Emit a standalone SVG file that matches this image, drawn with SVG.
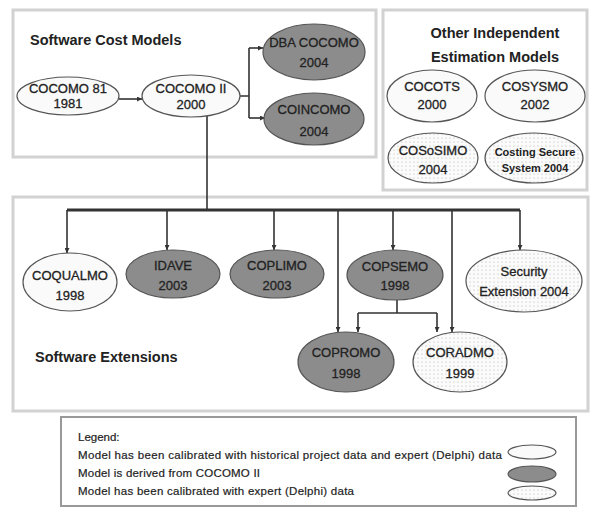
<svg xmlns="http://www.w3.org/2000/svg" width="592" height="508" viewBox="0 0 592 508">
<defs>
<pattern id="dots" width="4" height="4" patternUnits="userSpaceOnUse">
<rect width="4" height="4" fill="#fbfbfb"/>
<circle cx="2" cy="2" r="0.6" fill="#b0b0b0"/>
</pattern>
<marker id="arr" viewBox="0 0 10 10" refX="10" refY="5" markerWidth="5" markerHeight="5" orient="auto" markerUnits="userSpaceOnUse">
<path d="M0,0 L10,5 L0,10 z" fill="#333"/>
</marker>
</defs>
<style>
.box{fill:#fff;stroke:#d2d2d2;stroke-width:3}
.leg{fill:#fff;stroke:#999;stroke-width:2}
.hdr{font-family:"Liberation Sans",Arial,sans-serif;font-weight:bold;font-size:14.5px;fill:#222}
.t{font-family:"Liberation Sans",Arial,sans-serif;font-size:13px;fill:#222;stroke:#222;stroke-width:0.3;text-anchor:middle}
.ts{font-family:"Liberation Sans",Arial,sans-serif;font-size:11px;font-weight:bold;fill:#222;text-anchor:middle}
.lt{font-family:"Liberation Sans",Arial,sans-serif;font-size:11.5px;fill:#222;stroke:#222;stroke-width:0.2}
.w{fill:#fafafa;stroke:#555;stroke-width:1.2}
.d{fill:#8c8c8c;stroke:#555;stroke-width:1.2}
.p{fill:url(#dots);stroke:#555;stroke-width:1.2}
.c{fill:none;stroke:#333;stroke-width:1.6}
.ca{fill:none;stroke:#333;stroke-width:1.6;marker-end:url(#arr)}
.bus{fill:none;stroke:#333;stroke-width:3}
</style>
<rect width="592" height="508" fill="#fff"/>
<g id="panels">
<rect class="box" x="13" y="10" width="363" height="147"/>
<rect class="box" x="383" y="10" width="204" height="180"/>
<rect class="box" x="13" y="197" width="575" height="214"/>
<rect class="leg" x="61" y="417" width="515" height="89"/>
<text class="hdr" x="30" y="45">Software Cost Models</text>
<text class="hdr" x="495" y="38" text-anchor="middle">Other Independent</text>
<text class="hdr" x="495" y="62" text-anchor="middle">Estimation Models</text>
<text class="hdr" x="35" y="362">Software Extensions</text>
</g>
<g id="connectors">
<path class="ca" d="M119,99 H142"/>
<path class="c" d="M240,96 H249 M249,48 V118"/>
<path class="ca" d="M249,48 H263"/>
<path class="ca" d="M249,118 H265"/>
<path class="c" d="M207,116 V210"/>
<path class="bus" d="M67,210 H520"/>
<path class="ca" d="M67,210 V253"/>
<path class="ca" d="M167,210 V250"/>
<path class="ca" d="M274,210 V250"/>
<path class="ca" d="M338,210 V332"/>
<path class="ca" d="M393,210 V250"/>
<path class="ca" d="M452,210 V332"/>
<path class="ca" d="M520,210 V250"/>
<path class="c" d="M397,300 V313 M358,313 H437"/>
<path class="ca" d="M358,313 V332"/>
<path class="ca" d="M437,313 V332"/>
</g>
<g id="cocomo81"><ellipse class="w" cx="68" cy="96" rx="51" ry="19"/><text class="t" x="68" y="93">COCOMO 81</text><text class="t" x="68" y="108">1981</text></g>
<g id="cocomo2"><ellipse class="w" cx="191" cy="96" rx="49" ry="21"/><text class="t" x="191" y="93">COCOMO II</text><text class="t" x="191" y="109">2000</text></g>
<g id="dbacocomo"><ellipse class="d" cx="314" cy="52" rx="51" ry="28"/><text class="t" x="314" y="47">DBA COCOMO</text><text class="t" x="314" y="67">2004</text></g>
<g id="coincomo"><ellipse class="d" cx="314" cy="119" rx="50" ry="26"/><text class="t" x="314" y="114">COINCOMO</text><text class="t" x="314" y="136">2004</text></g>
<g id="cocots"><ellipse class="w" cx="432" cy="96" rx="45" ry="26"/><text class="t" x="432" y="91">COCOTS</text><text class="t" x="432" y="109">2000</text></g>
<g id="cosysmo"><ellipse class="w" cx="535" cy="96" rx="50" ry="26"/><text class="t" x="535" y="91">COSYSMO</text><text class="t" x="535" y="109">2002</text></g>
<g id="cososimo"><ellipse class="p" cx="433" cy="158" rx="45" ry="25"/><text class="t" x="433" y="155">COSoSIMO</text><text class="t" x="433" y="174">2004</text></g>
<g id="costingsecure"><ellipse class="p" cx="534" cy="158" rx="49" ry="25"/><text class="ts" x="535" y="156">Costing Secure</text><text class="ts" x="535" y="172">System 2004</text></g>
<g id="coqualmo"><ellipse class="w" cx="70" cy="282" rx="47" ry="29"/><text class="t" x="70" y="280">COQUALMO</text><text class="t" x="70" y="300">1998</text></g>
<g id="idave"><ellipse class="d" cx="173" cy="274" rx="47" ry="24"/><text class="t" x="173" y="270">IDAVE</text><text class="t" x="173" y="290">2003</text></g>
<g id="coplimo"><ellipse class="d" cx="277" cy="274" rx="47" ry="24"/><text class="t" x="277" y="270">COPLIMO</text><text class="t" x="277" y="290">2003</text></g>
<g id="copsemo"><ellipse class="d" cx="395" cy="275" rx="48" ry="25"/><text class="t" x="395" y="271">COPSEMO</text><text class="t" x="395" y="290">1998</text></g>
<g id="security"><ellipse class="p" cx="524" cy="281" rx="58" ry="31"/><text class="t" x="524" y="276">Security</text><text class="t" x="524" y="296">Extension 2004</text></g>
<g id="copromo"><ellipse class="d" cx="346" cy="362" rx="48" ry="30"/><text class="t" x="346" y="357">COPROMO</text><text class="t" x="346" y="378">1998</text></g>
<g id="coradmo"><ellipse class="p" cx="460" cy="362" rx="47" ry="30"/><text class="t" x="460" y="357">CORADMO</text><text class="t" x="460" y="378">1999</text></g>
<g id="legend">
<text class="lt" x="78" y="441">Legend:</text>
<text class="lt" x="78" y="459" textLength="424">Model has been calibrated with historical project data and expert (Delphi) data</text>
<text class="lt" x="78" y="477" textLength="182">Model is derived from COCOMO II</text>
<text class="lt" x="78" y="495" textLength="276">Model has been calibrated with expert (Delphi) data</text>
<ellipse class="w" cx="532" cy="452" rx="24" ry="7"/>
<ellipse class="d" cx="532" cy="474" rx="24" ry="8"/>
<ellipse class="p" cx="532" cy="493" rx="24" ry="7"/>
</g>
</svg>
